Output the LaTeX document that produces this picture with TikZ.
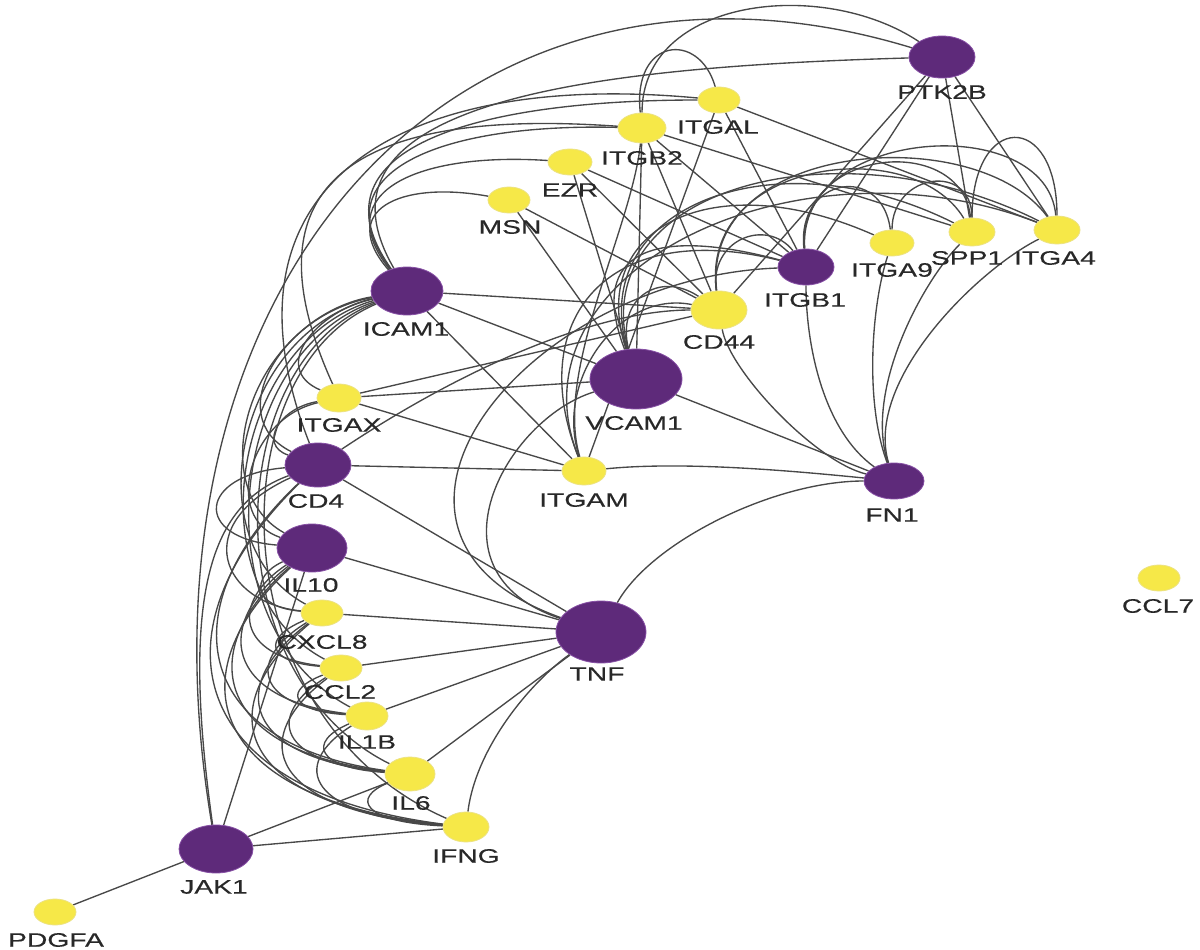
\documentclass[tikz,border=0pt]{standalone}
\usepackage{fontspec}
\usetikzlibrary{shapes.geometric}
\newfontfamily\labfont[FakeStretch=1.45,FakeBold=0.35]{Liberation Sans}
\definecolor{pfill}{RGB}{94,42,122}
\definecolor{pline}{RGB}{135,80,165}
\definecolor{yfill}{RGB}{246,232,72}
\definecolor{yline}{RGB}{236,226,130}
\definecolor{ecol}{RGB}{72,72,72}
\definecolor{tcol}{RGB}{40,40,40}
\pgfdeclarelayer{bg}
\pgfdeclarelayer{edges}
\pgfsetlayers{bg,edges,main}
\tikzset{
  pnode/.style={ellipse, fill=pfill, draw=pline, line width=0.8pt, inner sep=0pt},
  ynode/.style={ellipse, fill=yfill, draw=yline, line width=0.8pt, inner sep=0pt},
  lab/.style={font=\labfont\fontsize{19.5}{22}\selectfont, text=tcol, inner sep=0pt},
  edge/.style={draw=ecol, line width=1.35pt}
}
\newcommand\ecv[4]{\draw[edge] (#1) .. controls +(#3) and +(#4) .. (#2);}
\newcommand\est[2]{\draw[edge] (#1) -- (#2);}
\begin{document}
\begin{tikzpicture}[x=1pt,y=-1pt]
\useasboundingbox (0,0) rectangle (1200,950);
\begin{pgfonlayer}{bg}
\fill[white] (0,0) rectangle (1200,950);
\end{pgfonlayer}
% nodes
\node[pnode, minimum width=66pt, minimum height=42pt] (PTK2B) at (942,57) {};
\node[ynode, minimum width=42pt, minimum height=26pt] (ITGAL) at (719,100) {};
\node[ynode, minimum width=48pt, minimum height=30pt] (ITGB2) at (642,128) {};
\node[ynode, minimum width=44pt, minimum height=26pt] (EZR) at (570,162) {};
\node[ynode, minimum width=42pt, minimum height=26pt] (MSN) at (509,200) {};
\node[pnode, minimum width=72pt, minimum height=48pt] (ICAM1) at (407,291) {};
\node[pnode, minimum width=56pt, minimum height=36pt] (ITGB1) at (806,267) {};
\node[ynode, minimum width=44pt, minimum height=26pt] (ITGA9) at (892,243) {};
\node[ynode, minimum width=46pt, minimum height=28pt] (SPP1) at (972,232) {};
\node[ynode, minimum width=46pt, minimum height=28pt] (ITGA4) at (1057,230) {};
\node[ynode, minimum width=56pt, minimum height=38pt] (CD44) at (719,310) {};
\node[pnode, minimum width=92pt, minimum height=60pt] (VCAM1) at (636,379) {};
\node[ynode, minimum width=44pt, minimum height=28pt] (ITGAX) at (339,398) {};
\node[pnode, minimum width=66pt, minimum height=44pt] (CD4) at (318,465) {};
\node[ynode, minimum width=44pt, minimum height=28pt] (ITGAM) at (584,471) {};
\node[pnode, minimum width=60pt, minimum height=36pt] (FN1) at (894,481) {};
\node[pnode, minimum width=70pt, minimum height=48pt] (IL10) at (312,548) {};
\node[ynode, minimum width=42pt, minimum height=26pt] (CCL7) at (1159,578) {};
\node[ynode, minimum width=42pt, minimum height=26pt] (CXCL8) at (322,613) {};
\node[pnode, minimum width=90pt, minimum height=62pt] (TNF) at (601,632) {};
\node[ynode, minimum width=42pt, minimum height=26pt] (CCL2) at (341,668) {};
\node[ynode, minimum width=42pt, minimum height=28pt] (IL1B) at (367,716) {};
\node[ynode, minimum width=50pt, minimum height=34pt] (IL6) at (410,774) {};
\node[ynode, minimum width=46pt, minimum height=30pt] (IFNG) at (466,827) {};
\node[pnode, minimum width=74pt, minimum height=48pt] (JAK1) at (216,849) {};
\node[ynode, minimum width=42pt, minimum height=26pt] (PDGFA) at (55,912) {};
% labels
\node[lab] (lPTK2B) at (942,92) {PTK2B};
\node[lab] (lITGAL) at (718,127) {ITGAL};
\node[lab] (lITGB2) at (642,158) {ITGB2};
\node[lab] (lEZR) at (570,190) {EZR};
\node[lab] (lMSN) at (510,227) {MSN};
\node[lab] (lICAM1) at (406,329) {ICAM1};
\node[lab] (lITGB1) at (805,300) {ITGB1};
\node[lab] (lITGA9) at (892,270) {ITGA9};
\node[lab] (lSPP1) at (967,258) {SPP1};
\node[lab] (lITGA4) at (1055,258) {ITGA4};
\node[lab] (lCD44) at (719,342) {CD44};
\node[lab] (lVCAM1) at (634,423) {VCAM1};
\node[lab] (lITGAX) at (339,425) {ITGAX};
\node[lab] (lCD4) at (316,501) {CD4};
\node[lab] (lITGAM) at (584,500) {ITGAM};
\node[lab] (lFN1) at (892,515) {FN1};
\node[lab] (lIL10) at (311,585) {IL10};
\node[lab] (lCCL7) at (1158,606) {CCL7};
\node[lab] (lCXCL8) at (322,642) {CXCL8};
\node[lab] (lTNF) at (597,674) {TNF};
\node[lab] (lCCL2) at (340,692) {CCL2};
\node[lab] (lIL1B) at (367,742) {IL1B};
\node[lab] (lIL6) at (411,803) {IL6};
\node[lab] (lIFNG) at (466,856) {IFNG};
\node[lab] (lJAK1) at (214,887) {JAK1};
\node[lab] (lPDGFA) at (56,940) {PDGFA};
% edges
\begin{pgfonlayer}{edges}
\est{PDGFA}{JAK1}
\est{JAK1}{IL6}
\est{JAK1}{IFNG}
\est{JAK1}{IL10}
\est{TNF}{IL10}
\est{TNF}{CXCL8}
\est{TNF}{CCL2}
\est{TNF}{IL1B}
\est{TNF}{IL6}
\est{TNF}{CD4}
\est{ICAM1}{VCAM1}
\est{ICAM1}{CD44}
\est{ICAM1}{ITGAM}
\est{ITGAX}{ITGAM}
\est{ITGAX}{VCAM1}
\est{ITGAX}{CD44}
\est{CD4}{ITGAM}
\est{VCAM1}{FN1}
\est{VCAM1}{MSN}
\est{VCAM1}{EZR}
\est{VCAM1}{ITGB2}
\est{MSN}{CD44}
\est{EZR}{CD44}
\est{EZR}{ITGB1}
\est{ITGB2}{ITGB1}
\est{ITGB2}{CD44}
\est{ITGAL}{ITGB1}
\est{ITGAL}{ITGAM}
\est{ITGAL}{ITGA4}
\est{ITGB2}{SPP1}
\est{PTK2B}{ITGB1}
\est{PTK2B}{CD44}
\est{PTK2B}{SPP1}
\est{PTK2B}{ITGA4}
% cytokine arcs
\ecv{IL10}{CXCL8}{-62,29}{-70,-6}
\ecv{IL10}{CCL2}{-82,54}{-105,-12}
\ecv{IL10}{IL1B}{-99,76}{-143,-17}
\ecv{IL10}{IL6}{-119,102}{-197,-23}
\ecv{IL10}{IFNG}{-138,126}{-261,-28}
\ecv{CXCL8}{CCL2}{-60,25}{-75,-6}
\ecv{CXCL8}{IL1B}{-76,47}{-112,-10}
\ecv{CXCL8}{IL6}{-97,73}{-167,-16}
\ecv{CXCL8}{IFNG}{-115,97}{-230,-22}
\ecv{CCL2}{IL1B}{-57,22}{-78,-5}
\ecv{CCL2}{IL6}{-77,48}{-132,-11}
\ecv{CCL2}{IFNG}{-96,72}{-196,-16}
\ecv{IL1B}{IL6}{-60,26}{-94,-6}
\ecv{IL1B}{IFNG}{-79,50}{-158,-11}
\ecv{IL6}{IFNG}{-59,24}{-104,-5}
\ecv{CD4}{IL10}{-120,10}{-120,-10}
\ecv{CD4}{IL6}{-148,139}{-222,-31}
\ecv{CD4}{IFNG}{-167,163}{-285,-36}
\ecv{CD4}{CXCL8}{-130,60}{-100,-10}
\ecv{TNF}{IFNG}{-70,50}{10,-80}
\ecv{ICAM1}{IL10}{-160,30}{-110,-60}
\ecv{ICAM1}{CXCL8}{-170,40}{-130,-70}
\ecv{ICAM1}{CCL2}{-175,50}{-150,-80}
\ecv{ICAM1}{IL1B}{-180,60}{-170,-90}
\ecv{ICAM1}{IL6}{-185,70}{-200,-100}
\ecv{ICAM1}{IFNG}{-190,80}{-250,-110}
\ecv{ICAM1}{CD4}{-120,20}{-100,-50}
\ecv{ICAM1}{ITGAX}{-90,20}{-70,-30}
\ecv{ITGAX}{CD4}{-60,10}{-60,-20}
\ecv{ITGAX}{IL10}{-90,20}{-90,-30}
\ecv{JAK1}{CD4}{-35,-250}{-110,40}
\ecv{JAK1}{PTK2B}{-96,-569}{-482,-147}
% top arcs
\ecv{ICAM1}{MSN}{-70,-80}{-110,-20}
\ecv{ICAM1}{EZR}{-80,-100}{-150,-10}
\ecv{ICAM1}{ITGB2}{-90,-120}{-200,-5}
\ecv{ICAM1}{ITGAL}{-100,-140}{-250,0}
\ecv{ICAM1}{PTK2B}{-110,-190}{-350,10}
\ecv{CD4}{ITGAL}{-110,-280}{-320,-30}
\ecv{ITGAX}{ITGB2}{-100,-220}{-280,-20}
\ecv{CD4}{CD44}{150,-100}{-120,0}
\ecv{ITGB2}{ITGAL}{-10,-90}{-20,-70}
\ecv{ITGB2}{PTK2B}{0,-130}{-120,-80}
% central arcs
\ecv{TNF}{VCAM1}{-180,-60}{-130,40}
\ecv{TNF}{ITGB1}{-280,-100}{-280,10}
\ecv{TNF}{FN1}{50,-90}{-120,0}
\ecv{ITGAM}{FN1}{100,-10}{-100,-10}
\ecv{VCAM1}{ITGB1}{-50,-130}{-150,-40}
\ecv{VCAM1}{ITGA9}{-50,-150}{-180,-80}
\ecv{VCAM1}{SPP1}{-50,-170}{-200,-100}
\ecv{VCAM1}{ITGA4}{-50,-190}{-220,-110}
\ecv{VCAM1}{CD44}{-20,-80}{-60,-40}
\ecv{ITGAM}{ITGB1}{-60,-150}{-200,-50}
\ecv{ITGAM}{ITGA4}{-80,-200}{-260,-100}
\ecv{ITGAM}{ITGB2}{-30,-100}{-10,100}
\ecv{ITGAM}{CD44}{-30,-90}{-100,-20}
\ecv{CD44}{ITGB1}{-10,-70}{-40,-50}
\ecv{CD44}{SPP1}{-20,-150}{-60,-100}
\ecv{CD44}{ITGA4}{-20,-170}{-80,-110}
\ecv{CD44}{FN1}{10,60}{-80,-20}
% right cluster
\ecv{ITGB1}{ITGA9}{-10,-90}{-10,-80}
\ecv{ITGB1}{SPP1}{-10,-120}{-10,-100}
\ecv{ITGB1}{ITGA4}{-10,-140}{-10,-120}
\ecv{SPP1}{ITGA4}{0,-120}{0,-120}
\ecv{ITGA9}{SPP1}{0,-70}{0,-70}
\ecv{FN1}{ITGB1}{-70,-50}{0,80}
\ecv{FN1}{ITGA9}{-30,-80}{-20,60}
\ecv{FN1}{SPP1}{-30,-90}{-50,50}
\ecv{FN1}{ITGA4}{-30,-100}{-80,40}
\end{pgfonlayer}
\end{tikzpicture}
\end{document}
